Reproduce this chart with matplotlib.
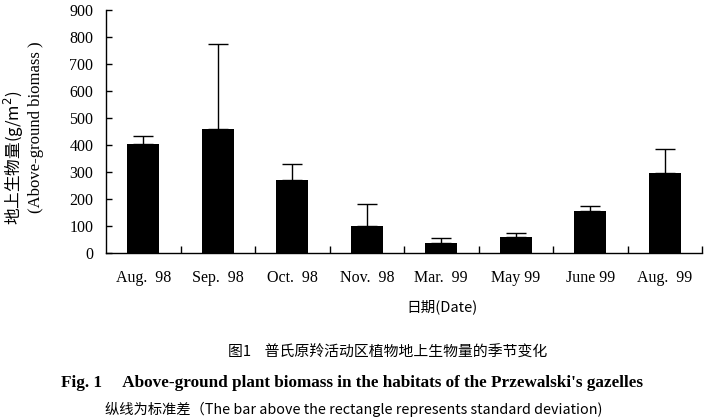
import matplotlib
matplotlib.use("Agg")
import matplotlib.pyplot as plt
import numpy as np

# Seasonal above-ground plant biomass (g/m^2) with standard deviation
months = ["Aug.  98", "Sep.  98", "Oct.  98", "Nov.  98",
          "Mar.  99", "May 99", "June 99", "Aug.  99"]
biomass = [405, 460, 270, 100, 37, 60, 155, 295]
std_dev = [30, 315, 58, 80, 17, 14, 20, 92]
y_ticks = [0, 100, 200, 300, 400, 500, 600, 700, 800, 900]

cjk = ["Noto Sans CJK SC", "DejaVu Sans"]
serif = ["Liberation Serif", "DejaVu Serif"]

fig = plt.figure(figsize=(7.04, 4.2), dpi=100)
ax = fig.add_axes([106 / 704, 1 - 253 / 420, (702 - 106) / 704, (253 - 10) / 420])

x = np.arange(len(months))
ax.bar(x, biomass, width=0.43, color="black", zorder=2)
ax.errorbar(x, biomass, yerr=[np.zeros(len(std_dev)), std_dev], fmt="none",
            ecolor="black", elinewidth=1.0, capsize=7, capthick=1.0, zorder=3)

ax.set_xlim(-0.5, len(months) - 0.5)
ax.set_ylim(0, 900)

for side in ("top", "right"):
    ax.spines[side].set_visible(False)
for side in ("left", "bottom"):
    ax.spines[side].set_linewidth(1.0)

ax.set_yticks(y_ticks)
ax.set_yticklabels([str(v) for v in y_ticks], fontfamily=serif, fontsize=11.5)
ax.tick_params(axis="y", direction="in", length=4, width=1, pad=9)

ax.set_xticks(x)
ax.set_xticklabels(months, fontfamily=serif, fontsize=11.5)
ax.set_xticks(list(x + 0.5), minor=True)
ax.tick_params(axis="x", which="major", length=0, pad=12)
ax.tick_params(axis="x", which="minor", direction="in", length=5, width=1)

# Axis titles
fig.text(14 / 704, 1 - 158 / 420, "地上生物量(g/m$^2$)", rotation=90,
         ha="center", va="center", fontsize=12, family=cjk)
fig.text(36 / 704, 1 - 127 / 420, "(Above-ground biomass )", rotation=90,
         ha="center", va="center", fontsize=12, family=serif)
fig.text(442 / 704, 1 - 307 / 420, "日期(Date)", ha="center", va="center",
         fontsize=10.5, family=cjk)

# Caption lines
fig.text(388 / 704, 1 - 353 / 420, "图1    普氏原羚活动区植物地上生物量的季节变化",
         ha="center", va="center", fontsize=10.7, family=cjk)
fig.text(352 / 704, 1 - 383 / 420,
         "Fig. 1     Above-ground plant biomass in the habitats of the Przewalski's gazelles",
         ha="center", va="center", fontsize=12.3, fontweight="bold", family=serif)
fig.text(354 / 704, 1 - 409 / 420,
         "纵线为标准差（The bar above the rectangle represents standard deviation)",
         ha="center", va="center", fontsize=10.3, family=cjk)

fig.savefig("out.png", dpi=100)
